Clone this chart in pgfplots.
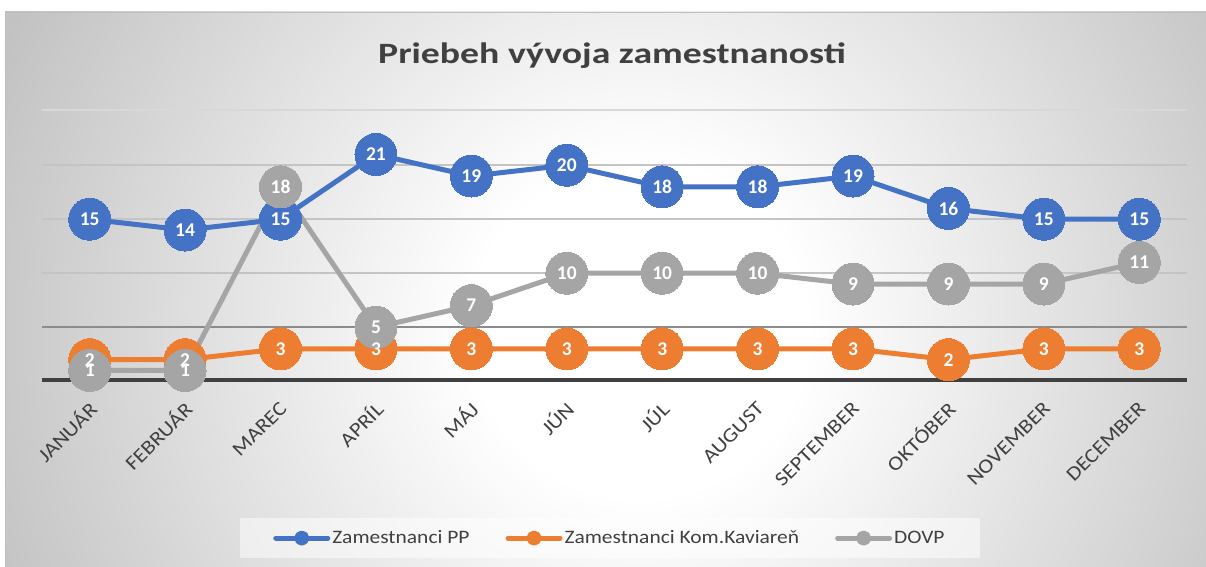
\documentclass[border=0pt]{standalone}
\usepackage{fontspec}
\setmainfont{Carlito}
\newfontfamily\titlefont[FakeStretch=1.28]{Carlito}
\newfontfamily\lblfont[FakeStretch=1.13]{Carlito}
\usepackage{pgfplots}
\pgfplotsset{compat=1.18}
\definecolor{cPP}{HTML}{4472C4}
\definecolor{cK}{HTML}{ED7D31}
\definecolor{cD}{HTML}{A5A5A5}
\definecolor{txt}{HTML}{404040}
\definecolor{bgedge}{HTML}{C2C2C2}
\definecolor{gridlight}{HTML}{C4C4C4}
\definecolor{griddark}{HTML}{8C8C8C}
\definecolor{gridfaint}{HTML}{D8D8D8}
\pgfdeclareradialshading{bgshade}{\pgfpoint{0bp}{0bp}}{color(0bp)=(white); color(5.5bp)=(white); color(23bp)=(bgedge); color(50bp)=(bgedge)}

\pgfplotstableread{
x PP K D
0 15 2 1
1 14 2 1
2 15 3 18
3 21 3 5
4 19 3 7
5 20 3 10
6 18 3 10
7 18 3 10
8 19 3 9
9 16 2 9
10 15 3 9
11 15 3 11
}\datatab

\begin{document}
\begin{tikzpicture}[x=1bp,y=1bp]
\useasboundingbox (0,0) rectangle (1206,567);
\fill[white] (0,0) rectangle (1206,567);
\begin{scope}
\clip (5,0) rectangle (1206,555);
\shade[shading=bgshade] (640,237) circle (760);
\end{scope}
\draw[black!25, line width=1bp] (5.5,0) -- (5.5,554.5) -- (1206,554.5);
\node[anchor=base, text=txt, font=\titlefont\bfseries\fontsize{29.5bp}{34bp}\selectfont] at (612,503) {Priebeh vývoja zamestnanosti};
% decorative reference lines of the plot area (y = 25 and baseline y = 0)
\draw[color=gridfaint, line width=1.5bp] (42,457) -- (1187,457);
\draw[color=txt, line width=4bp] (42,187) -- (1187,187);

\begin{axis}[
  at={(44,172)}, anchor=south west,
  scale only axis, width=1145bp, height=270bp,
  xmin=-0.5, xmax=11.5, ymin=0, ymax=25,
  clip=false,
  axis line style={draw=none},
  major tick length=0pt,
  /pgf/number format/assume math mode=true,
  xtick={0,...,11},
  xticklabels={JANUÁR,FEBRUÁR,MAREC,APRÍL,MÁJ,JÚN,JÚL,AUGUST,SEPTEMBER,OKTÓBER,NOVEMBER,DECEMBER},
  xticklabel style={xshift=3bp, yshift=-24bp, rotate=45, anchor=east, inner sep=0pt, text=txt, font=\lblfont\fontsize{20bp}{23bp}\selectfont},
  ytick={10,15,20}, yticklabels={},
  ymajorgrids,
  grid style={line width=1.5bp, color=gridlight},
  extra y ticks={5}, extra y tick labels={},
  extra y tick style={grid style={line width=1.5bp, color=griddark}},
  legend columns=3,
  legend style={at={(0.496,-0.581)}, anchor=center, fill=white, fill opacity=0.5, text opacity=1, draw=none,
    font=\lblfont\fontsize{19bp}{22bp}\selectfont, text=txt, inner xsep=33bp, inner ysep=11bp,
    /tikz/every even column/.append style={column sep=34bp}},
  every axis plot/.append style={line width=5bp, line join=round},
]
\addplot[cPP, mark=*, mark size=21bp, mark options={fill=cPP, draw=cPP, line width=0pt},
  legend image code/.code={\draw[cPP, line width=5bp, line cap=round] (0bp,0bp) -- (52bp,0bp); \fill[cPP] (26bp,0bp) circle (5bp);}]
  table[x=x, y=PP] {\datatab};
\addlegendentry{Zamestnanci PP}
\addplot[cK, mark=*, mark size=21bp, mark options={fill=cK, draw=cK, line width=0pt},
  legend image code/.code={\draw[cK, line width=5bp, line cap=round] (0bp,0bp) -- (52bp,0bp); \fill[cK] (26bp,0bp) circle (5bp);}]
  table[x=x, y=K] {\datatab};
\addlegendentry{Zamestnanci Kom.Kaviareň}
\addplot[cD, mark=*, mark size=21bp, mark options={fill=cD, draw=cD, line width=0pt},
  legend image code/.code={\draw[cD, line width=5bp, line cap=round] (0bp,0bp) -- (52bp,0bp); \fill[cD] (26bp,0bp) circle (5bp);}]
  table[x=x, y=D] {\datatab};
\addlegendentry{DOVP}

\pgfplotsset{every node near coord/.append style={anchor=center, text=white, inner sep=0pt, font=\bfseries\fontsize{19.5bp}{22bp}\selectfont}}
\addplot[draw=none, mark=none, forget plot, nodes near coords] table[x=x, y=PP] {\datatab};
\addplot[draw=none, mark=none, forget plot, nodes near coords] table[x=x, y=K] {\datatab};
\addplot[draw=none, mark=none, forget plot, nodes near coords] table[x=x, y=D] {\datatab};
\end{axis}
\end{tikzpicture}
\end{document}
